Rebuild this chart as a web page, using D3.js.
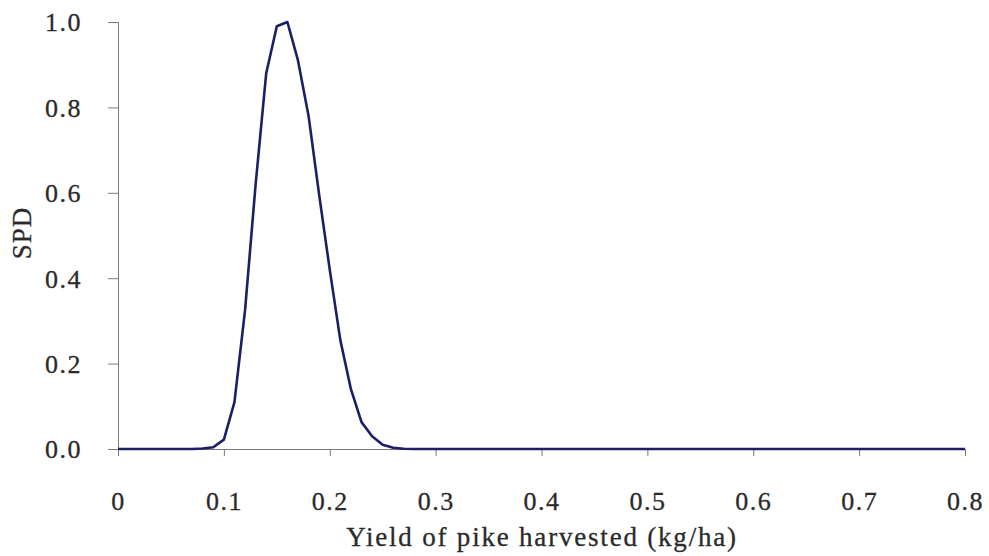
<!DOCTYPE html>
<html><head><meta charset="utf-8">
<script src="https://cdn.jsdelivr.net/npm/d3@7"></script>
<style>
body{margin:0;background:#fff;}
text{font-family:"Liberation Serif","Times New Roman",serif;fill:#2a2a2a;}
</style></head>
<body>
<svg id="c" width="989" height="556"></svg>
<script>
const yieldX = [0,0.01,0.02,0.03,0.04,0.05,0.06,0.07,0.08,0.09,0.10,0.11,0.12,0.13,0.14,0.15,0.16,0.17,0.18,0.19,0.20,0.21,0.22,0.23,0.24,0.25,0.26,0.27,0.28,0.30,0.40,0.50,0.60,0.70,0.80];
const spd =    [0,0,0,0,0,0,0,0,0.001,0.004,0.022,0.11,0.325,0.62,0.88,0.99,1.0,0.91,0.78,0.595,0.42,0.255,0.14,0.063,0.03,0.01,0.003,0.0005,0,0,0,0,0,0,0];
const xTicks = [0,0.1,0.2,0.3,0.4,0.5,0.6,0.7,0.8];
const yTicks = [0,0.2,0.4,0.6,0.8,1.0];
const xTitle = "Yield of pike harvested (kg/ha)";
const yTitle = "SPD";

const svg = d3.select("#c");
const x = d3.scaleLinear().domain([0,0.8]).range([118,965]);
const y = d3.scaleLinear().domain([0,1]).range([449,22]);
const axisCol = "#7a7a7a";
const ff = "'Liberation Serif', serif";

// y axis
const ya = svg.append("g").attr("transform","translate(118,0)")
  .call(d3.axisLeft(y).tickValues(yTicks).tickFormat(d3.format(".1f")).tickSize(10).tickPadding(26));
ya.attr("font-family",ff);
ya.select(".domain").attr("stroke",axisCol);
ya.selectAll(".tick line").attr("stroke",axisCol);
ya.selectAll(".tick text").attr("font-size",26).attr("letter-spacing","1.5px").attr("fill","#2a2a2a")
  .attr("stroke","#2a2a2a").attr("stroke-width",0.3).attr("dy","0.34em");

// x axis
const xa = svg.append("g").attr("transform","translate(0,449)")
  .call(d3.axisBottom(x).tickValues(xTicks).tickFormat(d=> d===0?"0":d3.format(".1f")(d)).tickSize(7).tickPadding(36));
xa.attr("font-family",ff);
xa.select(".domain").attr("stroke",axisCol);
xa.selectAll(".tick line").attr("stroke",axisCol);
xa.selectAll(".tick text").attr("font-size",26).attr("letter-spacing","1.5px").attr("fill","#2a2a2a")
  .attr("stroke","#2a2a2a").attr("stroke-width",0.3);

// titles
svg.append("text").attr("x",542).attr("y",546).attr("text-anchor","middle")
  .attr("font-size",27).attr("letter-spacing","1.8px").attr("stroke","#2a2a2a").attr("stroke-width",0.3).text(xTitle);
svg.append("text").attr("transform","translate(31,233) rotate(-90)").attr("text-anchor","middle")
  .attr("font-size",27).attr("letter-spacing","1px").attr("stroke","#2a2a2a").attr("stroke-width",0.3).text(yTitle);

// line
const pts = yieldX.map((v,i)=>[v,spd[i]]);
svg.append("path").datum(pts)
  .attr("fill","none").attr("stroke","#1b1f66").attr("stroke-width",2.6).attr("stroke-linejoin","round")
  .attr("d", d3.line().x(d=>x(d[0])).y(d=>y(d[1])));
</script>
</body></html>
